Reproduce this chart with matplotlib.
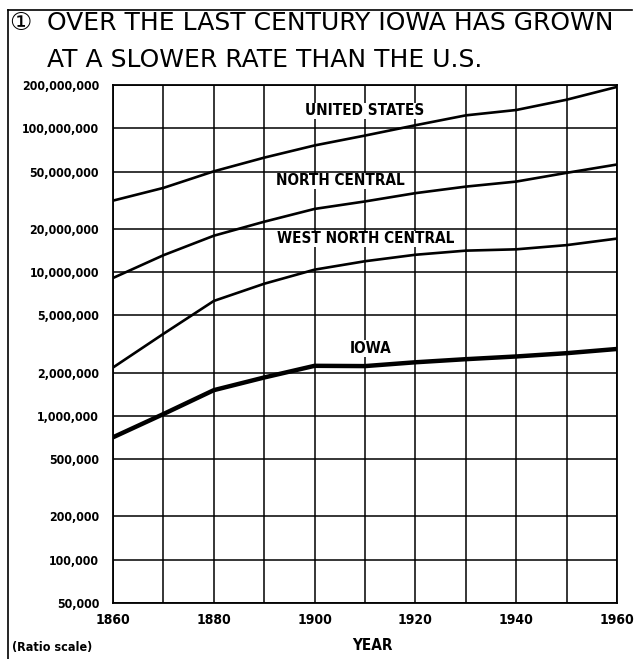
import matplotlib
matplotlib.use('Agg')
import matplotlib.pyplot as plt
from matplotlib.lines import Line2D

# population by census year
years = [1860, 1870, 1880, 1890, 1900, 1910, 1920, 1930, 1940, 1950, 1960]
united_states = [31.4e6, 38.5e6, 50.2e6, 62.5e6, 76e6, 89e6, 105e6, 123e6, 134e6, 158e6, 194e6]
north_central = [9.1e6, 13.1e6, 17.9e6, 22.4e6, 27.5e6, 31e6, 35.4e6, 39.3e6, 42.6e6, 49e6, 56e6]
west_north_central = [2.17e6, 3.72e6, 6.3e6, 8.3e6, 10.4e6, 11.9e6, 13.2e6, 14.1e6, 14.4e6, 15.4e6, 17.1e6]
iowa = [0.71e6, 1.03e6, 1.51e6, 1.85e6, 2.23e6, 2.22e6, 2.36e6, 2.48e6, 2.59e6, 2.73e6, 2.92e6]

ytick_vals = [5e4, 1e5, 2e5, 5e5, 1e6, 2e6, 5e6, 1e7, 2e7, 5e7, 1e8, 2e8]
ytick_labels = ['50,000', '100,000', '200,000', '500,000', '1,000,000', '2,000,000',
                '5,000,000', '10,000,000', '20,000,000', '50,000,000',
                '100,000,000', '200,000,000']
xtick_vals = [1860, 1880, 1900, 1920, 1940, 1960]

W, H = 638, 659
fig = plt.figure(figsize=(W / 100, H / 100), dpi=100)
ax = fig.add_axes([113 / W, 1 - 603 / H, (617 - 113) / W, (603 - 85) / H])

cond = dict(family='DejaVu Sans', fontstretch='condensed', fontweight='bold')

ax.set_yscale('log')
ax.set_xlim(1860, 1960)
ax.set_ylim(5e4, 2e8)

for xv in range(1860, 1961, 10):
    ax.axvline(xv, color='black', lw=1.1, zorder=1)
for yv in ytick_vals:
    ax.axhline(yv, color='black', lw=1.1, zorder=1)

ax.plot(years, united_states, color='black', lw=1.9, zorder=3)
ax.plot(years, north_central, color='black', lw=1.9, zorder=3)
ax.plot(years, west_north_central, color='black', lw=1.9, zorder=3)
ax.plot(years, iowa, color='black', lw=3.2, zorder=3)

box = dict(facecolor='white', edgecolor='none', pad=0.5)
ax.text(1898.1, 1.32e8, 'UNITED STATES', ha='left', va='center', fontsize=11, bbox=box, zorder=4, **cond)
ax.text(1892.3, 4.3e7, 'NORTH CENTRAL', ha='left', va='center', fontsize=11, bbox=box, zorder=4, **cond)
ax.text(1892.5, 1.70e7, 'WEST NORTH CENTRAL', ha='left', va='center', fontsize=11, bbox=box, zorder=4, **cond)
ax.text(1907.0, 2.95e6, 'IOWA', ha='left', va='center', fontsize=11, bbox=box, zorder=4, **cond)

ax.yaxis.set_minor_locator(matplotlib.ticker.NullLocator())
ax.set_yticks(ytick_vals, ytick_labels)
ax.set_xticks(xtick_vals, [str(v) for v in xtick_vals])
ax.tick_params(axis='both', which='major', length=0, colors='black')
ax.tick_params(axis='y', pad=10)
ax.tick_params(axis='x', which='major', pad=7)
for lab in ax.get_yticklabels():
    lab.set_fontsize(8.8)
    lab.set_fontweight('bold')
    lab.set_fontstretch('condensed')
for lab in ax.get_xticklabels():
    lab.set_fontsize(10)
    lab.set_fontweight('bold')
    lab.set_fontstretch('condensed')
for sp in ax.spines.values():
    sp.set_linewidth(1.3)
    sp.set_color('black')

# titles and captions
fig.text(9 / W, 1 - 23 / H, '\u2460', ha='left', va='center', fontsize=18,
         family=['DejaVu Sans', 'Noto Sans CJK SC'])
fig.text(47 / W, 1 - 23 / H, 'OVER THE LAST CENTURY IOWA HAS GROWN',
         ha='left', va='center', fontsize=18)
fig.text(47 / W, 1 - 60 / H, 'AT A SLOWER RATE THAN THE U.S.',
         ha='left', va='center', fontsize=18)
fig.text(372 / W, 1 - 646 / H, 'YEAR', ha='center', va='center', fontsize=11, **cond)
fig.text(12 / W, 1 - 648 / H, '(Ratio scale)', ha='left', va='center', fontsize=9, **cond)

# outer frame of the original figure
fig.add_artist(Line2D([8 / W, 8 / W], [0, 1 - 10 / H], color='black', lw=1.2))
fig.add_artist(Line2D([8 / W, 632 / W], [1 - 10 / H, 1 - 10 / H], color='black', lw=1.2))

fig.savefig('out.png', dpi=100)
